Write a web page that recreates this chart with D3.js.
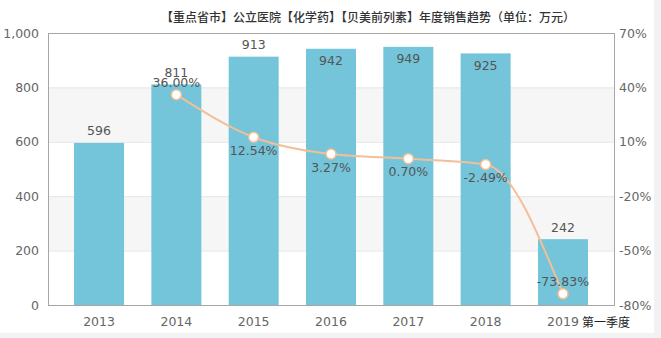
<!DOCTYPE html>
<html>
<head>
<meta charset="utf-8">
<script src="https://cdn.jsdelivr.net/npm/d3@7"></script>
<style>
  html, body { margin: 0; padding: 0; background: #f2f2f2; }
  svg { display: block; }
</style>
</head>
<body>
<svg id="chart" width="661" height="338"></svg>
<script>
// Annual sales (万元) and year-over-year growth (%)
const years = ["2013", "2014", "2015", "2016", "2017", "2018", "2019"];
const sales = [596, 811, 913, 942, 949, 925, 242];
const growth = [null, 36.00, 12.54, 3.27, 0.70, -2.49, -73.83];
const leftTicks = [0, 200, 400, 600, 800, 1000];
const rightTicks = [-80, -50, -20, 10, 40, 70];
const title = "【重点省市】公立医院【化学药】【贝美前列素】年度销售趋势（单位：万元）";
const lastNote = "第一季度";

const W = 661, H = 338;
const plot = { left: 48, right: 614, top: 33, bottom: 305 };
const font = "'DejaVu Sans', Verdana, sans-serif";
const cjk = "'Noto Sans CJK SC', 'Noto Sans', sans-serif";

const svg = d3.select("#chart");

// white card on the light grey page
svg.append("rect").attr("x", 0).attr("y", 0).attr("width", 654).attr("height", 333).attr("fill", "#fff");

const x = d3.scalePoint().domain(years).range([plot.left, plot.right]).padding(0.66);
const yL = d3.scaleLinear().domain([0, 1000]).range([plot.bottom, plot.top]);
const yR = d3.scaleLinear().domain([-80, 70]).range([plot.bottom, plot.top]);
const barW = 50;

// alternating horizontal bands
const bands = svg.append("g");
for (let i = 0; i < leftTicks.length - 1; i++) {
  if (i % 2 === 1) {
    bands.append("rect")
      .attr("x", plot.left).attr("width", plot.right - plot.left)
      .attr("y", yL(leftTicks[i + 1])).attr("height", yL(leftTicks[i]) - yL(leftTicks[i + 1]))
      .attr("fill", "#f6f6f7");
  }
}
// grid lines
svg.append("g").selectAll("line").data(leftTicks.slice(1, -1)).join("line")
  .attr("x1", plot.left).attr("x2", plot.right)
  .attr("y1", d => yL(d) + 0.5).attr("y2", d => yL(d) + 0.5)
  .attr("stroke", "#e6e6e6");

// bars
svg.append("g").selectAll("rect").data(sales).join("rect")
  .attr("x", (d, i) => x(years[i]) - barW / 2)
  .attr("width", barW)
  .attr("y", d => yL(d))
  .attr("height", d => plot.bottom - yL(d))
  .attr("fill", "#74c4da");

// plot frame
svg.append("rect")
  .attr("x", plot.left + 0.5).attr("y", plot.top + 0.5)
  .attr("width", plot.right - plot.left).attr("height", plot.bottom - plot.top)
  .attr("fill", "none").attr("stroke", "#a6a6a6");

// bar value labels: above the bar, or inside it when too close to the top
svg.append("g").selectAll("text").data(sales).join("text")
  .attr("x", (d, i) => x(years[i]))
  .attr("y", d => (yL(d) - 12 < plot.top + 10) ? yL(d) + 12 : yL(d) - 12)
  .attr("text-anchor", "middle").attr("dominant-baseline", "central")
  .attr("font-family", font).attr("font-size", 12.5).attr("fill", "#555")
  .text(d => d);

// growth line
const pts = growth.map((g, i) => ({ year: years[i], g })).filter(d => d.g !== null);
const line = d3.line().x(d => x(d.year)).y(d => yR(d.g)).curve(d3.curveMonotoneX);
svg.append("path").datum(pts)
  .attr("d", line).attr("fill", "none")
  .attr("stroke", "#f3bf98").attr("stroke-width", 2);
svg.append("g").selectAll("circle").data(pts).join("circle")
  .attr("cx", d => x(d.year)).attr("cy", d => yR(d.g)).attr("r", 5)
  .attr("fill", "#fff").attr("stroke", "#f3bf98").attr("stroke-width", 1.5);

// growth labels: extremes above the point, others below
const gVals = pts.map(d => d.g);
const gMax = d3.max(gVals), gMin = d3.min(gVals);
svg.append("g").selectAll("text").data(pts).join("text")
  .attr("x", d => x(d.year))
  .attr("y", d => (d.g === gMax || d.g === gMin) ? yR(d.g) - 12 : yR(d.g) + 13)
  .attr("text-anchor", "middle").attr("dominant-baseline", "central")
  .attr("font-family", font).attr("font-size", 12.5).attr("fill", "#555")
  .text(d => d.g.toFixed(2) + "%");

// left axis labels
svg.append("g").selectAll("text").data(leftTicks).join("text")
  .attr("x", 39).attr("y", d => yL(d))
  .attr("text-anchor", "end").attr("dominant-baseline", "central")
  .attr("font-family", font).attr("font-size", 12.5).attr("fill", "#666")
  .text(d => d3.format(",")(d));

// right axis labels
svg.append("g").selectAll("text").data(rightTicks).join("text")
  .attr("x", 619).attr("y", d => yR(d))
  .attr("text-anchor", "start").attr("dominant-baseline", "central")
  .attr("font-family", font).attr("font-size", 12.5).attr("fill", "#666")
  .text(d => d + "%");

// category labels
svg.append("g").selectAll("text").data(years).join("text")
  .attr("x", d => x(d)).attr("y", 321)
  .attr("text-anchor", "middle").attr("dominant-baseline", "central")
  .attr("font-family", font).attr("font-size", 12.5).attr("fill", "#666")
  .text(d => d);
svg.append("text")
  .attr("x", x(years[years.length - 1]) + 19).attr("y", 321)
  .attr("dominant-baseline", "central")
  .attr("font-family", cjk).attr("font-size", 12).attr("fill", "#222")
  .text(lastNote);

// title
svg.append("text")
  .attr("x", 368).attr("y", 16)
  .attr("text-anchor", "middle").attr("dominant-baseline", "central")
  .attr("font-family", cjk).attr("font-size", 12).attr("font-weight", 500).attr("fill", "#333")
  .text(title);
</script>
</body>
</html>
